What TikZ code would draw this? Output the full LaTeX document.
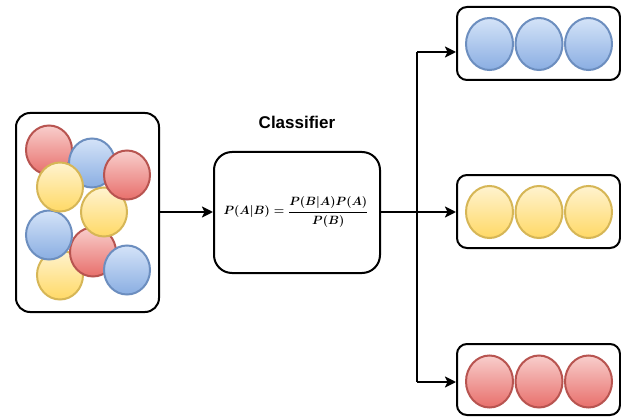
\documentclass[tikz,border=0pt]{standalone}
\usepackage{fontspec}
\setsansfont{Liberation Sans}
\usetikzlibrary{arrows.meta,shapes.geometric}
\definecolor{bluetop}{HTML}{D4E3F8}
\definecolor{bluebot}{HTML}{8AAEE2}
\definecolor{bluedraw}{HTML}{6C8EBF}
\definecolor{yeltop}{HTML}{FFF3CF}
\definecolor{yelbot}{HTML}{FFD966}
\definecolor{yeldraw}{HTML}{D6B656}
\definecolor{redtop}{HTML}{F8CECC}
\definecolor{redbot}{HTML}{E86F6B}
\definecolor{reddraw}{HTML}{B85450}
\newsavebox{\bayesbox}
\tikzset{
  ball/.style={ellipse, line width=2pt, inner sep=0pt, minimum width=46pt, minimum height=49pt, shading=axis, shading angle=0},
  rball/.style={ball, minimum width=47pt, minimum height=52pt},
  bb/.style={draw=bluedraw, top color=bluetop, bottom color=bluebot},
  yb/.style={draw=yeldraw, top color=yeltop, bottom color=yelbot},
  rb/.style={draw=reddraw, top color=redtop, bottom color=redbot},
  panel/.style={draw=black, line width=2pt, fill=white, inner sep=0pt},
  conn/.style={draw=black, line width=2.2pt},
  arr/.style={conn, -{Stealth[length=11pt,width=11pt,inset=2.5pt]}},
}
\begin{document}
\sbox{\bayesbox}{\fontsize{12.4}{15}\selectfont\mathversion{bold}$\displaystyle P(A\vert B)=\frac{P(B\vert A)P(A)}{P(B)}$}
\begin{tikzpicture}[x=1pt,y=-1pt]
\useasboundingbox (0,0) rectangle (621,417);
% source box
\node[panel, rounded corners=14pt, minimum width=143pt, minimum height=199pt] (src) at (87.5,212.5) {};
\node[ball,yb] (y3) at (60,275) {};
\node[ball,rb] (r2) at (93,252) {};
\node[ball,bb] (b2) at (49,235) {};
\node[ball,bb] (b3) at (127,270) {};
\node[ball,rb] (r1) at (49,150) {};
\node[ball,bb] (b1) at (92,163) {};
\node[ball,yb] (y1) at (60,187) {};
\node[ball,yb] (y2) at (104,212) {};
\node[ball,rb] (r3) at (127,175) {};
% classifier
\node[font=\sffamily\bfseries\fontsize{17}{20}\selectfont] (lab) at (297,122) {Classifier};
\node[panel, rounded corners=18pt, minimum width=166pt, minimum height=121pt] (clf) at (297,212.5) {};
\node[inner sep=0pt] (frm) at (296,212) {\usebox{\bayesbox}};
% output boxes
\node[panel, rounded corners=10pt, minimum width=163pt, minimum height=73pt] (o1) at (538.5,43.5) {};
\node[panel, rounded corners=10pt, minimum width=163pt, minimum height=73pt] (o2) at (538.5,211.5) {};
\node[panel, rounded corners=10pt, minimum width=163pt, minimum height=71pt] (o3) at (538.5,379.5) {};
\foreach \x [count=\i] in {489.5,539,588.5}{
  \node[rball,bb] (ob\i) at (\x,44) {};
  \node[rball,yb] (oy\i) at (\x,212) {};
  \node[rball,rb] (or\i) at (\x,381.5) {};
}
% connectors
\coordinate (br) at (417,212);
\coordinate (br1) at (417,52);
\coordinate (br3) at (417,382);
\draw[arr] (src.east |- br) -- (clf.west |- br);
\draw[conn] (clf.east |- br) -- (br);
\draw[conn] (br1) -- (br3);
\draw[arr] (br1) -- (br1 -| o1.west);
\draw[arr] (br) -- (br -| o2.west);
\draw[arr] (br3) -- (br3 -| o3.west);
\end{tikzpicture}
\end{document}
